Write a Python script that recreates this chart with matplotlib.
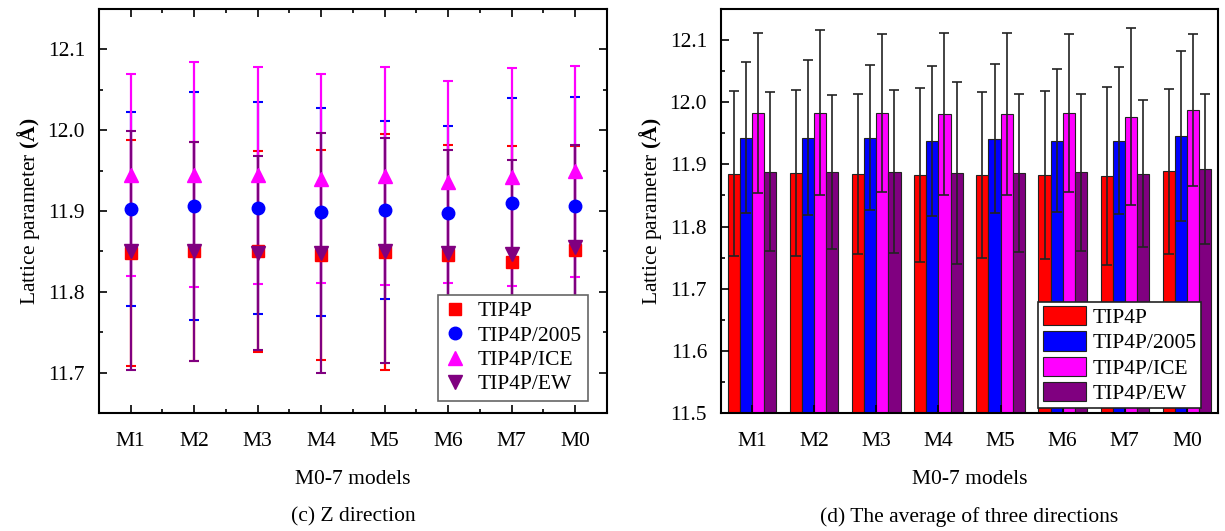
import numpy as np
import matplotlib
matplotlib.use("Agg")
import matplotlib.pyplot as plt
from matplotlib.ticker import MultipleLocator

plt.rcParams['font.family'] = ['Liberation Serif', 'DejaVu Serif']
plt.rcParams['mathtext.fontset'] = 'custom'
plt.rcParams['mathtext.rm'] = 'Liberation Serif'
plt.rcParams['mathtext.bf'] = 'Liberation Serif:bold'
plt.rcParams['font.size'] = 15.5

models = ['M1', 'M2', 'M3', 'M4', 'M5', 'M6', 'M7', 'M0']
series = ['TIP4P', 'TIP4P/2005', 'TIP4P/ICE', 'TIP4P/EW']
colors = ['#ff0000', '#0000ff', '#ff00ff', '#800080']
markers = ['s', 'o', '^', 'v']

# (c) Z direction
z_tip4p = [11.848, 11.850, 11.850, 11.846, 11.849, 11.846, 11.837, 11.852]
z_tip4p_err = [0.140, 0.136, 0.124, 0.130, 0.146, 0.136, 0.144, 0.128]
z_2005 = [11.903, 11.906, 11.904, 11.899, 11.901, 11.898, 11.910, 11.906]
z_2005_err = [0.120, 0.141, 0.131, 0.129, 0.110, 0.107, 0.130, 0.135]
z_ice = [11.945, 11.945, 11.944, 11.940, 11.943, 11.936, 11.942, 11.949]
z_ice_err = [0.125, 0.139, 0.134, 0.129, 0.135, 0.125, 0.135, 0.131]
z_ew = [11.851, 11.850, 11.848, 11.848, 11.851, 11.848, 11.847, 11.855]
z_ew_err = [0.148, 0.136, 0.120, 0.148, 0.139, 0.128, 0.116, 0.127]

# (d) average of three directions
avg_tip4p = [11.885, 11.886, 11.885, 11.883, 11.883, 11.883, 11.881, 11.889]
avg_tip4p_err = [0.133, 0.134, 0.129, 0.140, 0.134, 0.135, 0.143, 0.133]
avg_2005 = [11.943, 11.943, 11.943, 11.938, 11.941, 11.938, 11.938, 11.946]
avg_2005_err = [0.122, 0.125, 0.117, 0.121, 0.120, 0.115, 0.118, 0.137]
avg_ice = [11.983, 11.983, 11.983, 11.981, 11.981, 11.983, 11.977, 11.988]
avg_ice_err = [0.129, 0.133, 0.127, 0.130, 0.130, 0.127, 0.142, 0.122]
avg_ew = [11.888, 11.888, 11.888, 11.886, 11.886, 11.887, 11.885, 11.893]
avg_ew_err = [0.128, 0.124, 0.131, 0.147, 0.127, 0.126, 0.118, 0.121]

z_vals = [z_tip4p, z_2005, z_ice, z_ew]
z_errs = [z_tip4p_err, z_2005_err, z_ice_err, z_ew_err]
avg_vals = [avg_tip4p, avg_2005, avg_ice, avg_ew]
avg_errs = [avg_tip4p_err, avg_2005_err, avg_ice_err, avg_ew_err]

x = np.arange(1, len(models) + 1)
ylab = r'Lattice parameter $\mathbf{(Å)}$'

fig = plt.figure(figsize=(12.25, 5.31), dpi=100)
ax1 = fig.add_axes([99/1225, 118/531, 508/1225, 404/531])
ax2 = fig.add_axes([721/1225, 118/531, 497/1225, 404/531])

# left: points with error bars
msizes = [8, 9, 10, 10]
handles = []
for vals, errs, c, m, ms, lab in zip(z_vals, z_errs, colors, markers, msizes, series):
    cont = ax1.errorbar(x, vals, yerr=errs, fmt=m, color=c, ms=ms,
                        capsize=3.5, elinewidth=1.6, capthick=1.5, label=lab)
    handles.append(cont[0])
ax1.set_xlim(0.5, 8.5)
ax1.set_ylim(11.65, 12.15)
ax1.yaxis.set_major_locator(MultipleLocator(0.1))
ax1.yaxis.set_minor_locator(MultipleLocator(0.05))
ax1.set_xticks(x)
ax1.set_xticks(x[:-1] + 0.5, minor=True)
ax1.set_xticklabels(models)
ax1.tick_params(which='both', direction='in', top=True, right=True, width=1.2)
ax1.tick_params(which='major', length=6, pad=14)
ax1.tick_params(which='minor', length=3)
ax1.tick_params(axis='y', which='major', pad=10)
ax1.set_xlabel('M0-7 models', labelpad=13)
ax1.set_ylabel(ylab)
leg1 = ax1.legend(handles, series, loc='lower right', bbox_to_anchor=(0.963, 0.03),
                  borderaxespad=0, fancybox=False, edgecolor='#666666', framealpha=1,
                  labelspacing=0.2, handlelength=1.0, handletextpad=0.55, borderpad=0.3)
leg1.get_frame().set_linewidth(1.2)

# right: grouped bars
w = 0.195
for i, (vals, errs, c, lab) in enumerate(zip(avg_vals, avg_errs, colors, series)):
    ax2.bar(x + (i - 1.5) * w, vals, width=w, color=c, edgecolor='#222222', linewidth=0.8,
            yerr=errs, capsize=3.5, error_kw=dict(ecolor='#222222', elinewidth=1.2, capthick=1.2),
            label=lab)
ax2.set_xlim(0.5, 8.5)
ax2.set_ylim(11.5, 12.15)
ax2.yaxis.set_major_locator(MultipleLocator(0.1))
ax2.yaxis.set_minor_locator(MultipleLocator(0.05))
ax2.set_xticks(x)
ax2.set_xticklabels(models)
ax2.tick_params(which='both', direction='in', width=1.2)
ax2.tick_params(which='major', length=6, pad=14)
ax2.tick_params(which='minor', length=3)
ax2.tick_params(axis='y', which='major', pad=10)
ax2.set_xlabel('M0-7 models', labelpad=13)
ax2.set_ylabel(ylab)
leg2 = ax2.legend(loc='lower right', bbox_to_anchor=(0.965, 0.012), borderaxespad=0,
                  fancybox=False, edgecolor='#222222', framealpha=1,
                  labelspacing=0.15, handlelength=2.0, handleheight=1.0,
                  handletextpad=0.3, borderpad=0.2)
leg2.get_frame().set_linewidth(1.2)

for ax in (ax1, ax2):
    for s in ax.spines.values():
        s.set_linewidth(1.5)

fig.text(ax1.get_position().x0 + ax1.get_position().width / 2, 14/531, '(c) Z direction',
         ha='center', va='center')
fig.text(ax2.get_position().x0 + ax2.get_position().width / 2, 14/531,
         '(d) The average of three directions', ha='center', va='center')

fig.savefig('out.png', dpi=100)
